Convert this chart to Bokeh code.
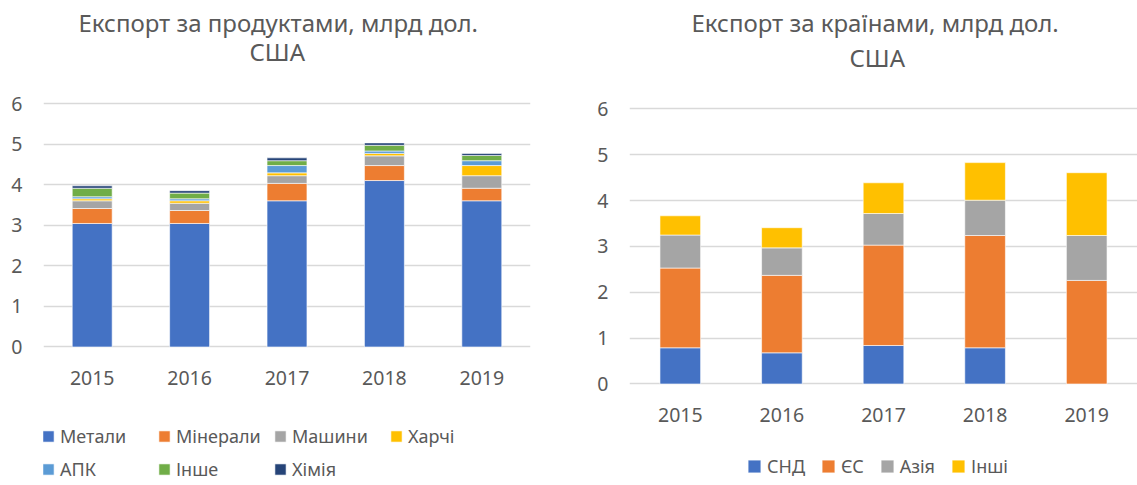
from bokeh.plotting import figure
from bokeh.models import ColumnDataSource, Legend, LegendItem, Title, FactorRange, Range1d, FixedTicker
from bokeh.layouts import row
from bokeh.embed import file_html
from bokeh.resources import INLINE

years = ["2015", "2016", "2017", "2018", "2019"]

prod_names = ["Метали", "Мінерали", "Машини", "Харчі", "АПК", "Інше", "Хімія"]
metals = [3.05, 3.05, 3.61, 4.11, 3.61]
minerals = [0.37, 0.32, 0.43, 0.37, 0.31]
machines = [0.19, 0.18, 0.19, 0.24, 0.31]
food = [0.05, 0.06, 0.07, 0.06, 0.25]
apk = [0.05, 0.05, 0.18, 0.06, 0.12]
other = [0.21, 0.14, 0.12, 0.14, 0.13]
chem = [0.06, 0.06, 0.07, 0.06, 0.05]
prod_colors = ["#4472C4", "#ED7D31", "#A5A5A5", "#FFC000", "#5B9BD5", "#70AD47", "#264478"]

country_names = ["СНД", "ЄС", "Азія", "Інші"]
cis = [0.79, 0.68, 0.84, 0.79, 0.0]
eu = [1.74, 1.69, 2.19, 2.45, 2.26]
asia = [0.72, 0.60, 0.69, 0.77, 0.98]
rest = [0.42, 0.44, 0.67, 0.82, 1.37]
country_colors = ["#4472C4", "#ED7D31", "#A5A5A5", "#FFC000"]

y_ticks = [0, 1, 2, 3, 4, 5, 6]

FONT = "Noto Sans"
TXT = "#595959"


def make_fig(fw, fh, y0, y1, bl, br, title1, title2, off1, off2, t1_stand, t2_stand, spacer=None):
    p = figure(frame_width=fw, frame_height=fh, x_range=FactorRange(factors=years, range_padding=0),
               y_range=Range1d(y0, y1), output_backend="svg", toolbar_location=None,
               min_border_left=bl, min_border_right=br, min_border_top=0, min_border_bottom=0)
    p.outline_line_color = None
    p.xgrid.grid_line_color = None
    p.ygrid.grid_line_color = "#d9d9d9"
    p.ygrid.grid_line_width = 1.5
    p.yaxis.ticker = FixedTicker(ticks=y_ticks)
    for ax in (p.xaxis, p.yaxis):
        ax.axis_line_color = None
        ax.major_tick_line_color = None
        ax.minor_tick_line_color = None
        ax.major_tick_out = 0
        ax.major_tick_in = 0
        ax.major_label_text_font = FONT
        ax.major_label_text_font_size = "19.5px"
        ax.major_label_text_color = TXT
    p.yaxis.major_label_standoff = 21
    p.xaxis.major_label_standoff = 24
    p.xaxis.fixed_location = 0
    t2 = Title(text=title2, align="left", text_font=FONT, text_font_size="24px",
               text_font_style="normal", text_color=TXT, offset=off2, standoff=t2_stand)
    t1 = Title(text=title1, align="left", text_font=FONT, text_font_size="24px",
               text_font_style="normal", text_color=TXT, offset=off1, standoff=t1_stand)
    p.add_layout(t2, "above")
    p.add_layout(t1, "above")
    if spacer is not None:
        p.add_layout(Title(text=" ", text_font_size="1px", standoff=spacer), "above")
    return p


def make_legend(items, loc, gw, sp, lw):
    lg = Legend(items=items, orientation="horizontal", location=loc)
    lg.glyph_width = gw
    lg.glyph_height = gw
    lg.label_standoff = 5
    lg.label_width = lw
    lg.label_height = 25
    lg.spacing = sp
    lg.padding = 0
    lg.margin = 0
    lg.border_line_color = None
    lg.background_fill_alpha = 0
    lg.label_text_font = FONT
    lg.label_text_font_size = "18px"
    lg.label_text_color = TXT
    return lg


# Left chart: products
src1 = ColumnDataSource(dict(year=years, m1=metals, m2=minerals, m3=machines, m4=food,
                             m5=apk, m6=other, m7=chem))
p1 = make_fig(487, 414, -3.395, 6.827, 43, 43, "Експорт за продуктами, млрд дол.", "США",
              35, 206, -17, 5, spacer=7)
r1 = p1.vbar_stack(["m1", "m2", "m3", "m4", "m5", "m6", "m7"], x="year", width=0.41,
                   color=prod_colors, line_color="white", line_width=0.6, source=src1)

leg_a = make_legend([LegendItem(label=prod_names[i], renderers=[r1[i]]) for i in range(4)],
                    (-2, 34), 14, 0, 97)
leg_b = make_legend([LegendItem(label=prod_names[i], renderers=[r1[i]]) for i in range(4, 7)],
                    (-2, 1), 14, 0, 97)
p1.add_layout(leg_a, "center")
p1.add_layout(leg_b, "center")

# Right chart: countries
src2 = ColumnDataSource(dict(year=years, c1=cis, c2=eu, c3=asia, c4=rest))
p2 = make_fig(508, 414, -2.193, 6.840, 56, 0, "Експорт за країнами, млрд дол.", "США",
              62, 220, 7, -7)
r2 = p2.vbar_stack(["c1", "c2", "c3", "c4"], x="year", width=0.4,
                   color=country_colors, line_color="white", line_width=0.6, source=src2)
leg_c = make_legend([LegendItem(label=country_names[i], renderers=[r2[i]]) for i in range(4)],
                    (117, 6), 16, 15, 20)
p2.add_layout(leg_c, "center")

layout = row(p1, p2)
open("out.html", "w").write(file_html(layout, INLINE))
